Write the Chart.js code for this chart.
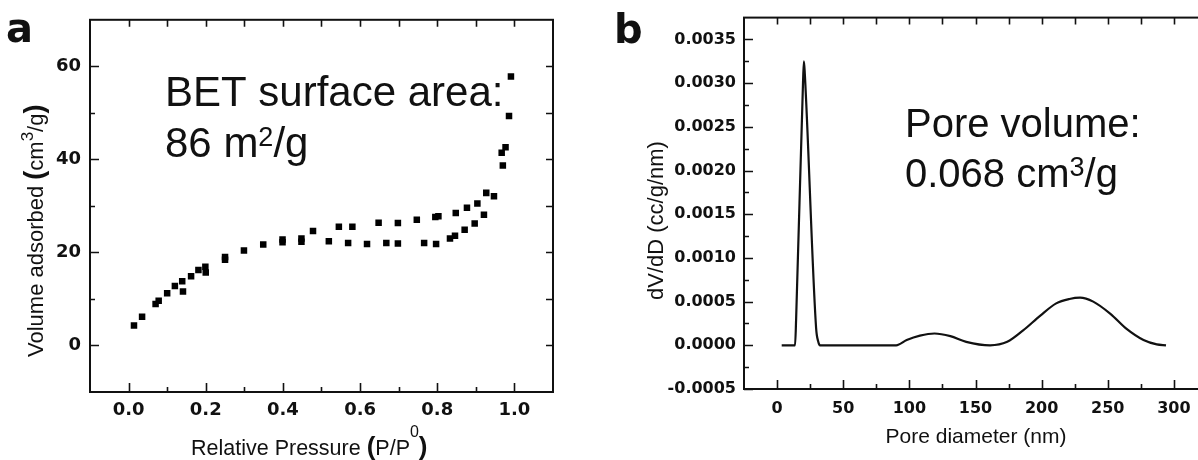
<!DOCTYPE html>
<html>
<head>
<meta charset="utf-8">
<script src="https://cdn.jsdelivr.net/npm/chart.js@4.4.1/dist/chart.umd.min.js"></script>
<style>
html,body{margin:0;padding:0;width:1198px;height:460px;overflow:hidden;background:#fff;}
#ca{position:absolute;left:0;top:0;}
#cb{position:absolute;left:590px;top:0;}
</style>
</head>
<body>
<canvas id="ca" width="590" height="460"></canvas>
<canvas id="cb" width="625" height="460"></canvas>
<script>
// ---- Panel a: N2 isotherm (adsorption + desorption points) ----
const pressure = [0.014,0.035,0.070,0.078,0.100,0.120,0.139,0.141,0.162,0.181,0.199,0.200,0.250,0.250,0.299,0.349,0.399,0.399,0.448,0.448,0.478,0.519,0.545,0.569,0.580,0.618,0.648,0.668,0.698,0.698,0.747,0.766,0.797,0.795,0.803,0.833,0.846,0.848,0.871,0.877,0.897,0.904,0.921,0.927,0.947,0.970,0.967,0.977,0.986,0.991];
const volume   = [4.3,6.2,8.9,9.6,11.2,12.8,13.8,11.6,14.9,16.2,16.9,15.7,19.0,18.4,20.4,21.7,22.8,22.2,23.0,22.3,24.6,22.4,25.5,22.0,25.5,21.8,26.4,22.0,26.3,21.9,27.0,22.0,21.8,27.6,27.8,23.0,23.6,28.5,24.9,29.6,26.2,30.5,28.1,32.8,32.1,38.7,41.4,42.6,49.3,57.8];
const xTicksA  = [0,0.2,0.4,0.6,0.8,1.0];
const xLabelsA = ['0.0','0.2','0.4','0.6','0.8','1.0'];
const xMinorA  = [0.1,0.3,0.5,0.7,0.9];
const yTicksA  = [0,20,40,60];
const yLabelsA = ['0','20','40','60'];
const yMinorA  = [10,30,50];

// ---- Panel b: pore size distribution ----
const poreDiameter = [3.5,13.6,14.4,19.6,20.3,21.0,29.5,31.0,32.5,40,60,80,90,98,108,119,131,143,161,174,186,199,211,221,229,239,252,264,277,287,294];
const dVdD         = [0,0,0.0003,0.003,0.00325,0.0031,0.0002,0.00005,0,0,0,0,0,0.00006,0.00011,0.000135,0.000105,0.00004,0,0.00004,0.00017,0.00034,0.00048,0.00053,0.000545,0.0005,0.00036,0.00019,0.00006,0.00001,0];
const xTicksB  = [0,50,100,150,200,250,300];
const xLabelsB = ['0','50','100','150','200','250','300'];
const xMinorB  = [25,75,125,175,225,275];
const yTicksB  = [-0.0005,0,0.0005,0.001,0.0015,0.002,0.0025,0.003,0.0035];
const yLabelsB = ['-0.0005','0.0000','0.0005','0.0010','0.0015','0.0020','0.0025','0.0030','0.0035'];
const yMinorB  = [-0.00025,0.00025,0.00075,0.00125,0.00175,0.00225,0.00275,0.00325];

const FF = '"Liberation Sans", Arial, sans-serif';
const TF = '"DejaVu Sans", sans-serif';
const INK = '#111';

function drawRich(ctx, t) {
  ctx.save();
  ctx.fillStyle = INK;
  ctx.textBaseline = 'alphabetic';
  ctx.textAlign = 'left';
  let total = 0;
  for (const s of t.segs) { ctx.font = s.f; total += ctx.measureText(s.t).width; }
  ctx.translate(t.x, t.y);
  if (t.rot) ctx.rotate(-Math.PI / 2);
  let cx = t.align === 'center' ? -total / 2 : 0;
  for (const s of t.segs) {
    ctx.font = s.f;
    ctx.fillText(s.t, cx, -(s.r || 0));
    cx += ctx.measureText(s.t).width;
  }
  ctx.restore();
}

const deco = {
  id: 'deco',
  afterDraw(chart, args, o) {
    const ctx = chart.ctx;
    const {left, right, top, bottom} = chart.chartArea;
    const xs = chart.scales.x, ys = chart.scales.y;
    ctx.save();
    ctx.strokeStyle = INK;
    ctx.lineWidth = 2;
    ctx.strokeRect(left, top, right - left, bottom - top);
    ctx.lineWidth = 1.6;
    ctx.beginPath();
    const tick = (arr, axis, lenB, lenT) => {
      for (const v of arr) {
        if (axis === 'x') {
          const px = Math.round(xs.getPixelForValue(v)) + 0.5;
          ctx.moveTo(px, bottom); ctx.lineTo(px, bottom - lenB);
          ctx.moveTo(px, top); ctx.lineTo(px, top + lenT);
        } else {
          const py = Math.round(ys.getPixelForValue(v)) + 0.5;
          ctx.moveTo(left, py); ctx.lineTo(left + lenB, py);
          ctx.moveTo(right, py); ctx.lineTo(right - lenT, py);
        }
      }
    };
    tick(o.xMajor, 'x', 9, 7);
    tick(o.xMinor, 'x', 5, 7);
    tick(o.yMajor, 'y', 9, 7);
    tick(o.yMinor, 'y', 5, 7);
    ctx.stroke();
    ctx.restore();
    for (const t of o.texts) drawRich(ctx, t);
  }
};

function fixedTicks(values) {
  return s => { s.ticks = values.map(v => ({value: v})); };
}

Chart.defaults.color = INK;

new Chart(document.getElementById('ca'), {
  type: 'scatter',
  data: {
    datasets: [{
      data: pressure.map((p, i) => ({x: p, y: volume[i]})),
      pointStyle: 'rect',
      pointRadius: 4.6,
      backgroundColor: '#000',
      borderWidth: 0
    }]
  },
  options: {
    responsive: false, animation: false, devicePixelRatio: 1,
    layout: {padding: {left: 0, right: 37, top: 16, bottom: 0}},
    plugins: {
      legend: {display: false}, tooltip: {enabled: false},
      deco: {
        xMajor: xTicksA, xMinor: xMinorA, yMajor: yTicksA, yMinor: yMinorA,
        texts: [
          {x: 6, y: 42, segs: [{t: 'a', f: 'bold 40px ' + TF}]},
          {x: 165, y: 106, segs: [{t: 'BET surface area:', f: '42px ' + FF}]},
          {x: 165, y: 157, segs: [{t: '86 m', f: '42px ' + FF}, {t: '2', f: '27px ' + FF, r: 11}, {t: '/g', f: '42px ' + FF}]},
          {x: 191, y: 455, segs: [{t: 'Relative Pressure ', f: '21.5px ' + FF}, {t: '(', f: 'bold 26px ' + FF}, {t: 'P/P', f: '21.5px ' + FF}, {t: '0', f: '16px ' + FF, r: 18}, {t: ')', f: 'bold 26px ' + FF}]},
          {x: 43, y: 357, rot: true, segs: [{t: 'Volume adsorbed ', f: '22px ' + FF}, {t: '(', f: 'bold 27px ' + FF}, {t: 'cm', f: '22px ' + FF}, {t: '3', f: '17px ' + FF, r: 10}, {t: '/g', f: '22px ' + FF}, {t: ')', f: 'bold 27px ' + FF}]}
        ]
      }
    },
    scales: {
      x: {
        type: 'linear', min: -0.1, max: 1.1,
        afterBuildTicks: fixedTicks(xTicksA),
        afterFit: s => { s.height = 68; },
        grid: {display: false, drawTicks: false},
        border: {display: false},
        ticks: {callback: (v, i) => xLabelsA[i], font: {family: TF, size: 18, weight: 'bold'}, color: INK, padding: 8, maxRotation: 0, autoSkip: false}
      },
      y: {
        type: 'linear', min: -10, max: 70,
        afterBuildTicks: fixedTicks(yTicksA),
        afterFit: s => { s.width = 90; },
        grid: {display: false, drawTicks: false},
        border: {display: false},
        ticks: {callback: (v, i) => yLabelsA[i], font: {family: TF, size: 18, weight: 'bold'}, color: INK, padding: 9, autoSkip: false}
      }
    }
  },
  plugins: [deco]
});

new Chart(document.getElementById('cb'), {
  type: 'line',
  data: {
    datasets: [{
      data: poreDiameter.map((d, i) => ({x: d, y: dVdD[i]})),
      borderColor: INK,
      borderWidth: 2.2,
      pointRadius: 0,
      fill: false,
      cubicInterpolationMode: 'monotone'
    }]
  },
  options: {
    responsive: false, animation: false, devicePixelRatio: 1,
    layout: {padding: {left: 0, right: 8, top: 17, bottom: 0}},
    plugins: {
      legend: {display: false}, tooltip: {enabled: false},
      deco: {
        xMajor: xTicksB, xMinor: xMinorB, yMajor: yTicksB, yMinor: yMinorB,
        texts: [
          {x: 24, y: 43, segs: [{t: 'b', f: 'bold 40px ' + TF}]},
          {x: 315, y: 137, segs: [{t: 'Pore volume:', f: '40px ' + FF}]},
          {x: 315, y: 187, segs: [{t: '0.068 cm', f: '40px ' + FF}, {t: '3', f: '27px ' + FF, r: 11}, {t: '/g', f: '40px ' + FF}]},
          {x: 386, y: 443, align: 'center', segs: [{t: 'Pore diameter (nm)', f: '21px ' + FF}]},
          {x: 73, y: 300, rot: true, segs: [{t: 'dV/dD (cc/g/nm)', f: '22px ' + FF}]}
        ]
      }
    },
    scales: {
      x: {
        type: 'linear', min: -25, max: 325,
        afterBuildTicks: fixedTicks(xTicksB),
        afterFit: s => { s.height = 71; },
        grid: {display: false, drawTicks: false},
        border: {display: false},
        ticks: {callback: (v, i) => xLabelsB[i], font: {family: TF, size: 16, weight: 'bold'}, color: INK, padding: 10, maxRotation: 0, autoSkip: false}
      },
      y: {
        type: 'linear', min: -0.0005, max: 0.00375,
        afterBuildTicks: fixedTicks(yTicksB),
        afterFit: s => { s.width = 154; },
        grid: {display: false, drawTicks: false},
        border: {display: false},
        ticks: {callback: (v, i) => yLabelsB[i], font: {family: TF, size: 16, weight: 'bold'}, color: INK, padding: 8, autoSkip: false}
      }
    }
  },
  plugins: [deco]
});
</script>
</body>
</html>
